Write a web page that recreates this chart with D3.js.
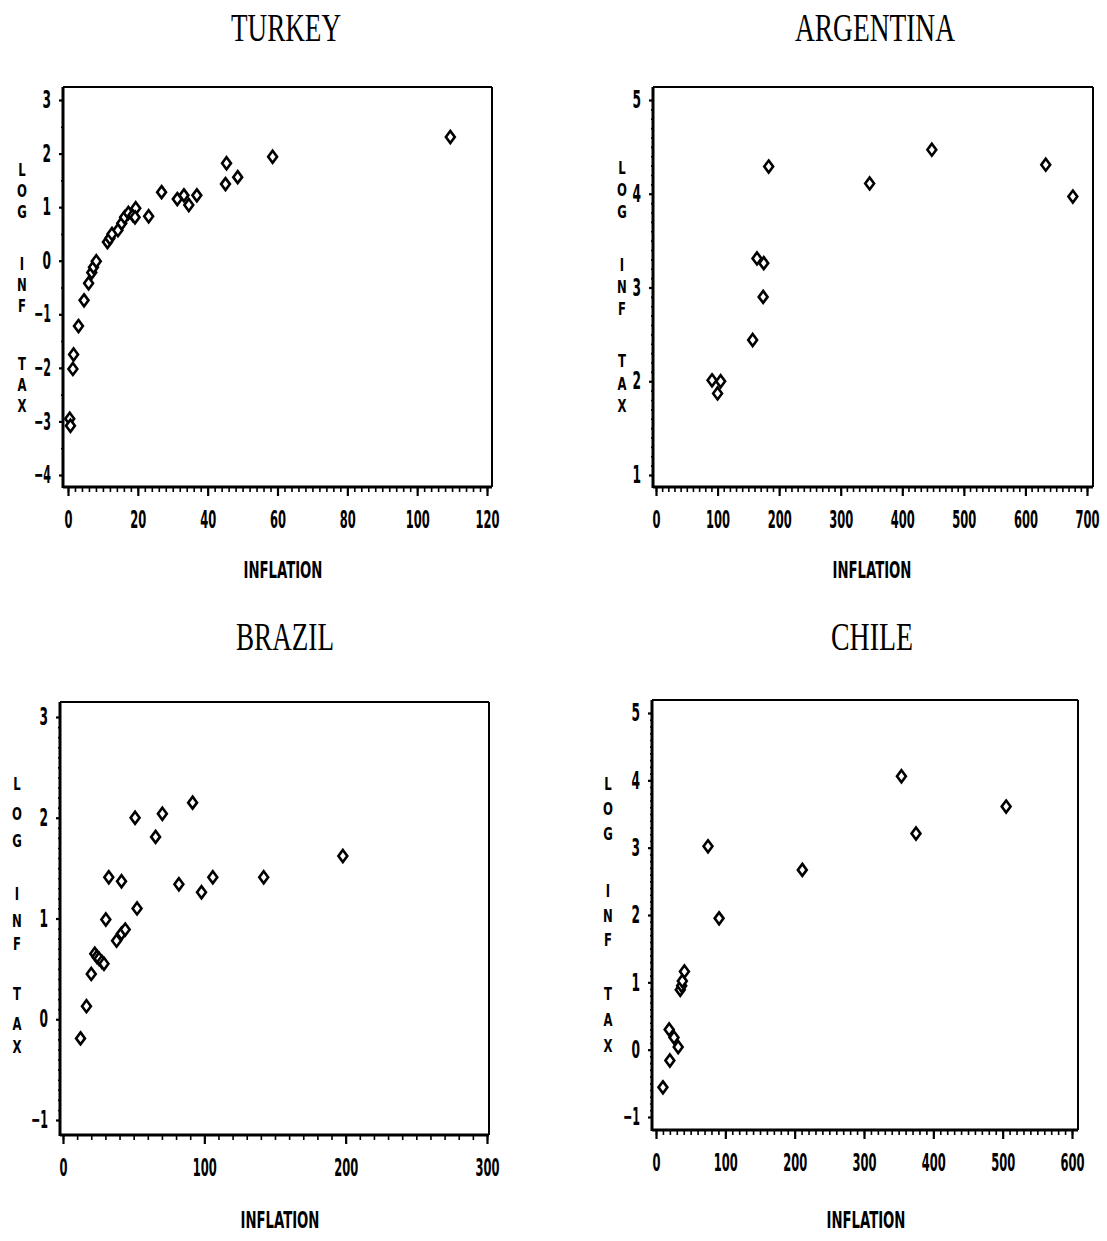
<!DOCTYPE html>
<html>
<head>
<meta charset="utf-8">
<script src="https://cdn.jsdelivr.net/npm/d3@7"></script>
<style>
body { margin: 0; background: #fff; }
</style>
</head>
<body>
<div id="chart"></div>
<script>
// values: inflation (%) vs log of the inflation tax
const turkeyInflation = [0.5, 0.7, 1.6, 1.4, 3.0, 4.6, 5.9, 6.8, 7.3, 8.1, 11.3, 12.0, 12.6, 14.3, 15.4, 16.2, 17.3, 18.6, 19.4, 19.2, 23.1, 26.8, 31.3, 33.2, 34.6, 36.9, 45.4, 45.1, 48.6, 58.6, 109.5];
const turkeyLogTax    = [-2.95, -3.08, -1.75, -2.02, -1.22, -0.74, -0.42, -0.22, -0.12, -0.01, 0.35, 0.42, 0.50, 0.57, 0.70, 0.81, 0.89, 0.85, 0.98, 0.81, 0.83, 1.28, 1.15, 1.22, 1.04, 1.22, 1.82, 1.43, 1.56, 1.94, 2.31];

const argentinaInflation = [91, 105, 100, 157, 164, 175, 174, 183, 347, 448, 633, 677];
const argentinaLogTax    = [2.01, 2.00, 1.87, 2.44, 3.31, 3.26, 2.90, 4.29, 4.11, 4.47, 4.31, 3.97];

const brazilInflation = [12.4, 16.6, 20, 22.5, 24, 25.5, 27.5, 29, 30.3, 32.4, 41.4, 37.9, 41.4, 44, 52.4, 51, 65.5, 70.3, 82, 91.7, 98, 106, 142, 198];
const brazilLogTax    = [-0.19, 0.13, 0.45, 0.65, 0.62, 0.60, 0.57, 0.55, 0.99, 1.41, 1.37, 0.78, 0.85, 0.89, 1.10, 2.00, 1.81, 2.04, 1.34, 2.15, 1.26, 1.41, 1.41, 1.62];

const chileInflation = [10, 20, 19, 26, 32, 35, 37, 38, 41, 75, 91, 211, 354, 375, 505];
const chileLogTax    = [-0.56, -0.16, 0.30, 0.18, 0.04, 0.89, 0.95, 1.02, 1.16, 3.02, 1.95, 2.67, 4.06, 3.21, 3.61];

const turkeyTicksX = [0, 20, 40, 60, 80, 100, 120];
const turkeyTicksY = [-4, -3, -2, -1, 0, 1, 2, 3];
const argentinaTicksX = [0, 100, 200, 300, 400, 500, 600, 700];
const argentinaTicksY = [1, 2, 3, 4, 5];
const brazilTicksX = [0, 100, 200, 300];
const brazilTicksY = [-1, 0, 1, 2, 3];
const chileTicksX = [0, 100, 200, 300, 400, 500, 600];
const chileTicksY = [-1, 0, 1, 2, 3, 4, 5];

const yTitle = ["L", "O", "G", "I", "N", "F", "T", "A", "X"];

const W = 1107, H = 1241;
const numFont = "'DejaVu Sans Condensed', 'Liberation Sans Narrow', 'DejaVu Sans', sans-serif";
const titleFont = "'Liberation Serif', 'DejaVu Serif', serif";

const svg = d3.select("#chart").append("svg")
    .attr("width", W)
    .attr("height", H)
    .style("background", "#fff");

// tall diamond, the plotter's marker
const diamond = {
    draw(ctx, size) {
        const h = Math.sqrt(size) * 0.6, w = h * 0.74;
        ctx.moveTo(0, -h);
        ctx.lineTo(w, 0);
        ctx.lineTo(0, h);
        ctx.lineTo(-w, 0);
        ctx.closePath();
    }
};

const panels = [
    { title: "TURKEY", xs: turkeyInflation, ys: turkeyLogTax, xt: turkeyTicksX, yt: turkeyTicksY,
      xRange: [68, 487], yRange: [475, 100], frame: { l: 63, r: 492, t: 87, b: 487 },
      xMinor: 2, yMinor: 0.5, titleX: 286, titleY: 41, titleW: 110,
      xTitleX: 283, xTitleY: 578, yTitleX: 22,
      letterY: [176, 197, 218, 270, 291, 312, 370, 391, 412] },
    { title: "ARGENTINA", xs: argentinaInflation, ys: argentinaLogTax, xt: argentinaTicksX, yt: argentinaTicksY,
      xRange: [656, 1087], yRange: [475, 100], frame: { l: 653, r: 1093, t: 87, b: 487 },
      xMinor: 10, yMinor: 0.1, titleX: 875, titleY: 41, titleW: 160,
      xTitleX: 872, xTitleY: 578, yTitleX: 622,
      letterY: [174, 196, 218, 271, 293, 315, 367, 390, 412] },
    { title: "BRAZIL", xs: brazilInflation, ys: brazilLogTax, xt: brazilTicksX, yt: brazilTicksY,
      xRange: [63, 487], yRange: [1120, 717], frame: { l: 60, r: 489, t: 702, b: 1135 },
      xMinor: 10, yMinor: 0.1, titleX: 285, titleY: 650, titleW: 98,
      xTitleX: 280, xTitleY: 1228, yTitleX: 17,
      letterY: [790, 820, 847, 900, 927, 950, 1000, 1030, 1053] },
    { title: "CHILE", xs: chileInflation, ys: chileLogTax, xt: chileTicksX, yt: chileTicksY,
      xRange: [656, 1072], yRange: [1117, 713], frame: { l: 652, r: 1078, t: 700, b: 1130 },
      xMinor: 10, yMinor: 0.1, titleX: 872, titleY: 650, titleW: 82,
      xTitleX: 866, xTitleY: 1228, yTitleX: 608,
      letterY: [790, 815, 840, 897, 922, 946, 1000, 1026, 1052] }
];

// squeeze a text horizontally (the plotter lettering is very narrow)
function scaleX(node, s) {
    const t = d3.select(node);
    const x0 = +t.attr("x") || 0;
    t.attr("x", x0 / s).attr("transform", "scale(" + s + ",1)");
}
function squeezeTo(node, target) {
    const w = node.getComputedTextLength();
    if (w) scaleX(node, target / w);
}

panels.forEach(p => {
    const x = d3.scaleLinear().domain(d3.extent(p.xt)).range(p.xRange);
    const y = d3.scaleLinear().domain(d3.extent(p.yt)).range(p.yRange);
    const f = p.frame;
    const g = svg.append("g");

    // minor ticks first, majors on top
    const xMinorTicks = d3.range(p.xt[0], p.xt[p.xt.length - 1] + 1e-9, p.xMinor);
    const yMinorTicks = d3.range(p.yt[0], p.yt[p.yt.length - 1] + 1e-9, p.yMinor);

    g.append("g")
        .attr("transform", "translate(0," + f.b + ")")
        .call(d3.axisBottom(x).tickValues(xMinorTicks).tickSize(5).tickFormat(""))
        .call(a => a.select(".domain").remove())
        .selectAll("line").attr("stroke-width", 1.6);

    g.append("g")
        .attr("transform", "translate(" + f.l + ",0)")
        .call(d3.axisLeft(y).tickValues(yMinorTicks).tickSize(2).tickFormat(""))
        .call(a => a.select(".domain").remove())
        .selectAll("line").attr("stroke-width", 1.6);

    const gx = g.append("g")
        .attr("transform", "translate(0," + f.b + ")")
        .call(d3.axisBottom(x).tickValues(p.xt).tickSize(9).tickPadding(15).tickFormat(d3.format("d")))
        .call(a => a.select(".domain").remove());
    gx.selectAll("line").attr("stroke-width", 2.2);
    gx.selectAll("text")
        .attr("font-family", numFont).attr("font-weight", "bold").attr("font-size", 24)
        .attr("fill", "#000")
        .each(function() { squeezeTo(this, this.textContent.length * 8); });

    const gy = g.append("g")
        .attr("transform", "translate(" + f.l + ",0)")
        .call(d3.axisLeft(y).tickValues(p.yt).tickSize(4).tickPadding(8).tickFormat(d3.format("d")))
        .call(a => a.select(".domain").remove());
    gy.selectAll("line").attr("stroke-width", 2.2);
    gy.selectAll("text")
        .attr("font-family", numFont).attr("font-weight", "bold").attr("font-size", 24)
        .attr("fill", "#000")
        .each(function() { squeezeTo(this, this.textContent.length * 8.5); });

    // frame: heavy axes on left and bottom, lighter top and right
    g.append("line").attr("x1", f.l).attr("x2", f.l).attr("y1", f.t).attr("y2", f.b + 1)
        .attr("stroke", "#000").attr("stroke-width", 3);
    g.append("line").attr("x1", f.l).attr("x2", f.r).attr("y1", f.b).attr("y2", f.b)
        .attr("stroke", "#000").attr("stroke-width", 3);
    g.append("line").attr("x1", f.l).attr("x2", f.r).attr("y1", f.t).attr("y2", f.t)
        .attr("stroke", "#000").attr("stroke-width", 2);
    g.append("line").attr("x1", f.r).attr("x2", f.r).attr("y1", f.t).attr("y2", f.b)
        .attr("stroke", "#000").attr("stroke-width", 2);

    // points
    const pts = p.xs.map((v, i) => ({ inf: v, tax: p.ys[i] }));
    g.selectAll("path.pt")
        .data(pts)
        .enter()
        .append("path")
        .attr("class", "pt")
        .attr("d", d3.symbol().type(diamond).size(100))
        .attr("transform", d => "translate(" + x(d.inf) + "," + y(d.tax) + ")")
        .attr("fill", "#fff")
        .attr("stroke", "#000")
        .attr("stroke-width", 2.6);

    // titles
    g.append("text")
        .attr("x", p.titleX).attr("y", p.titleY)
        .attr("text-anchor", "middle")
        .attr("font-family", titleFont).attr("font-size", 40)
        .text(p.title)
        .each(function() { squeezeTo(this, p.titleW); });

    g.append("text")
        .attr("x", p.xTitleX).attr("y", p.xTitleY)
        .attr("text-anchor", "middle")
        .attr("font-family", numFont).attr("font-weight", "bold").attr("font-size", 23)
        .text("INFLATION")
        .each(function() { squeezeTo(this, 79); });

    g.selectAll("text.ylet")
        .data(yTitle)
        .enter()
        .append("text")
        .attr("class", "ylet")
        .attr("x", p.yTitleX)
        .attr("y", (d, i) => p.letterY[i])
        .attr("text-anchor", "middle")
        .attr("font-family", numFont).attr("font-weight", "bold").attr("font-size", 18)
        .text(d => d)
        .each(function() { scaleX(this, 0.72); });
});
</script>
</body>
</html>
